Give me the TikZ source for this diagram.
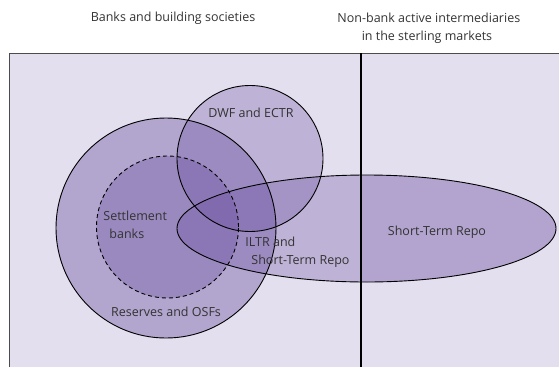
\documentclass[tikz,border=0pt]{standalone}
\usepackage{fontspec}
\setmainfont{Open Sans}
\usetikzlibrary{shapes.geometric}

\definecolor{panelbg}{HTML}{E3DFEE}
\definecolor{setpurple}{HTML}{6A4FA0}
\definecolor{txtgrey}{HTML}{333333}

\begin{document}
\begin{tikzpicture}[x=1pt,y=-1pt,line width=0.9pt,
  lbl/.style={text=txtgrey,font=\fontsize{12.5}{18.5}\selectfont,inner sep=0pt},
  setfill/.style={setpurple,fill opacity=#1}]

\useasboundingbox (0,0) rectangle (559,367);

% panel
\fill[panelbg] (9,53) rectangle (559,367);
\draw[gray!60!black,line width=0.8pt] (9,367) -- (9,53) -- (559,53);

% fills first, outlines on top
\fill[setfill=0.4] (166,228) circle (110pt);      %reserves
\fill[setfill=0.32] (167.5,227) circle (71pt);    %settlement
\fill[setfill=0.3] (250,158.5) circle (73pt);     %dwf
\fill[setfill=0.3] (366.5,228.5) ellipse (189.5pt and 53.5pt); %repo
\begin{scope}
\clip (361,53) rectangle (559,367);
\fill[setfill=0.14] (366.5,228.5) ellipse (189.5pt and 53.5pt);
\end{scope}

\draw (166,228) circle (110pt);
\draw[dash pattern=on 4pt off 3pt] (167.5,227) circle (71pt);
\draw (250,158.5) circle (73pt);
\draw (366.5,228.5) ellipse (189.5pt and 53.5pt);

% divider
\draw[line width=1.6pt] (361,53) -- (361,367);

% headings
\node[lbl] (banks) at (173,18) {Banks and building societies};
\node[lbl,anchor=west] (nonbank) at (337,18) {Non-bank active intermediaries};
\node[lbl] (sterling) at (427,37) {in the sterling markets};

% set labels
\node[lbl] (dwf) at (251,113) {DWF and ECTR};
\node[lbl,align=left,anchor=west] (settle) at (103,225) {Settlement\\ \hspace*{6pt}banks};
\node[lbl] (reserves) at (166,312) {Reserves and OSFs};
\node[lbl,align=left,anchor=west] (iltr) at (245,252) {ILTR and\\ \hspace*{6pt}Short-Term Repo};
\node[lbl] (repo) at (437,232) {Short-Term Repo};

\end{tikzpicture}
\end{document}
